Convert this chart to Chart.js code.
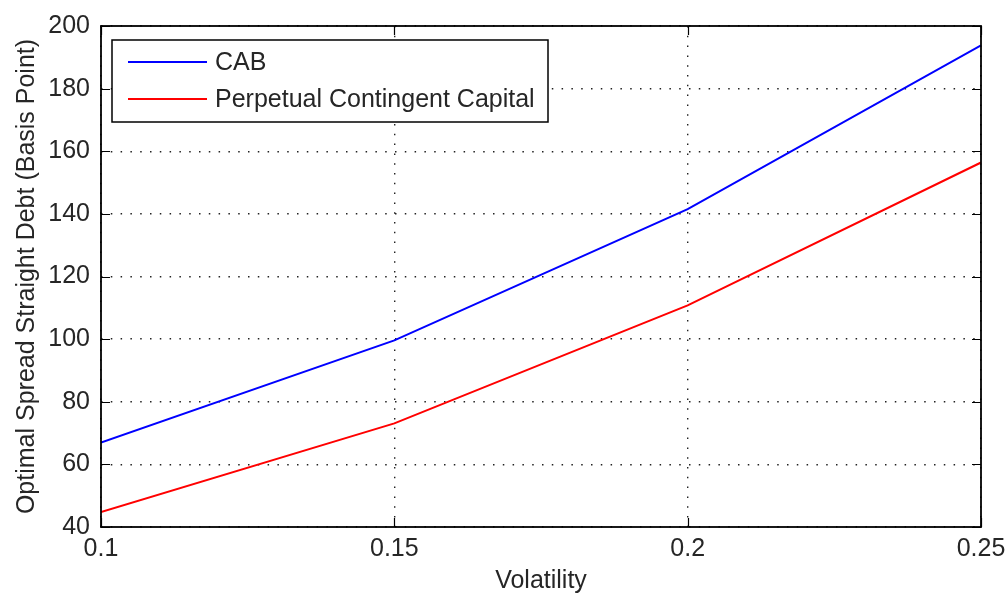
<!DOCTYPE html>
<html>
<head>
<meta charset="utf-8">
<script src="https://cdn.jsdelivr.net/npm/chart.js@4"></script>
<style>
  html, body { margin: 0; padding: 0; background: #fff; }
  #wrap { width: 1007px; height: 596px; }
</style>
</head>
<body>
<div id="wrap"><canvas id="myChart" width="1007" height="596"></canvas></div>
<script>
let volatility = [0.1, 0.15, 0.2, 0.25];
let cab = [67, 99.6, 141.5, 193.8];
let perpetual = [44.8, 73.1, 110.8, 156.4];
let xTicks = [0.1, 0.15, 0.2, 0.25];
let xTickLabels = ["0.1", "0.15", "0.2", "0.25"];
let yTicks = [40, 60, 80, 100, 120, 140, 160, 180, 200];

const textColor = "#262626";
const fontFamily = "'Liberation Sans', Arial, sans-serif";

// frame, inner tick marks and the boxed legend, matlab style
const matlabFrame = {
  id: "matlabFrame",
  afterDatasetsDraw(chart) {
    const { ctx, chartArea: a, scales } = chart;
    ctx.save();
    ctx.strokeStyle = "#000";
    ctx.lineWidth = 1.2;
    ctx.beginPath();
    yTicks.forEach((v) => {
      let py = Math.round(scales.y.getPixelForValue(v)) + 0.5;
      ctx.moveTo(a.left, py); ctx.lineTo(a.left + 9, py);
      ctx.moveTo(a.right, py); ctx.lineTo(a.right - 9, py);
    });
    xTicks.forEach((v) => {
      let px = Math.round(scales.x.getPixelForValue(v)) + 0.5;
      ctx.moveTo(px, a.bottom); ctx.lineTo(px, a.bottom - 9);
      ctx.moveTo(px, a.top); ctx.lineTo(px, a.top + 9);
    });
    ctx.stroke();
    ctx.lineWidth = 1.8;
    ctx.strokeRect(a.left, a.top, a.right - a.left, a.bottom - a.top);

    // legend box
    let lx = a.left + 11, ly = a.top + 14, lw = 436, lh = 82;
    ctx.fillStyle = "#fff";
    ctx.fillRect(lx, ly, lw, lh);
    ctx.lineWidth = 1.5;
    ctx.strokeRect(lx, ly, lw, lh);
    ctx.font = "25px " + fontFamily;
    ctx.textBaseline = "middle";
    chart.data.datasets.forEach((ds, i) => {
      let cy = ly + 22 + i * 37;
      ctx.strokeStyle = ds.borderColor;
      ctx.lineWidth = 2;
      ctx.beginPath();
      ctx.moveTo(lx + 16, cy); ctx.lineTo(lx + 95, cy);
      ctx.stroke();
      ctx.fillStyle = textColor;
      ctx.fillText(ds.label, lx + 103, cy + 1);
    });
    ctx.restore();
  }
};

const ctx = document.getElementById("myChart");

new Chart(ctx, {
  type: "line",
  data: {
    datasets: [
      {
        label: "CAB",
        data: volatility.map((v, i) => ({ x: v, y: cab[i] })),
        borderColor: "#0000ff",
        borderWidth: 2,
        pointRadius: 0,
        fill: false,
        tension: 0
      },
      {
        label: "Perpetual Contingent Capital",
        data: volatility.map((v, i) => ({ x: v, y: perpetual[i] })),
        borderColor: "#ff0000",
        borderWidth: 2,
        pointRadius: 0,
        fill: false,
        tension: 0
      }
    ]
  },
  options: {
    responsive: false,
    animation: false,
    layout: { padding: { top: 23, right: 0, left: 0, bottom: 0 } },
    plugins: {
      legend: { display: false },
      tooltip: { enabled: false }
    },
    scales: {
      x: {
        type: "linear",
        min: 0.1,
        max: 0.25,
        afterBuildTicks: (s) => { s.ticks = xTicks.map((v) => ({ value: v })); },
        afterFit: (s) => { s.height = 69; s.paddingRight = 26; s.paddingLeft = 0; },
        ticks: {
          callback: (v) => xTickLabels[xTicks.indexOf(v)] ?? "",
          color: textColor,
          font: { size: 25, family: fontFamily },
          padding: 7,
          maxRotation: 0,
          autoSkip: false
        },
        grid: {
          color: "#222",
          lineWidth: 1.4,
          drawTicks: false
        },
        border: { display: false, dash: [1.5, 8.3] },
        title: {
          display: true,
          text: "Volatility",
          color: textColor,
          font: { size: 25, family: fontFamily },
          padding: { top: 0, bottom: 0 }
        }
      },
      y: {
        min: 40,
        max: 200,
        afterBuildTicks: (s) => { s.ticks = yTicks.map((v) => ({ value: v })); },
        afterFit: (s) => { s.width = 101; },
        ticks: {
          color: textColor,
          font: { size: 25, family: fontFamily },
          padding: 11
        },
        grid: {
          color: "#222",
          lineWidth: 1.4,
          drawTicks: false
        },
        border: { display: false, dash: [1.5, 8.3] },
        title: {
          display: true,
          text: "Optimal Spread Straight Debt (Basis Point)",
          color: textColor,
          font: { size: 25, family: fontFamily },
          padding: { top: 12, bottom: 0 }
        }
      }
    }
  },
  plugins: [matlabFrame]
});
</script>
</body>
</html>
